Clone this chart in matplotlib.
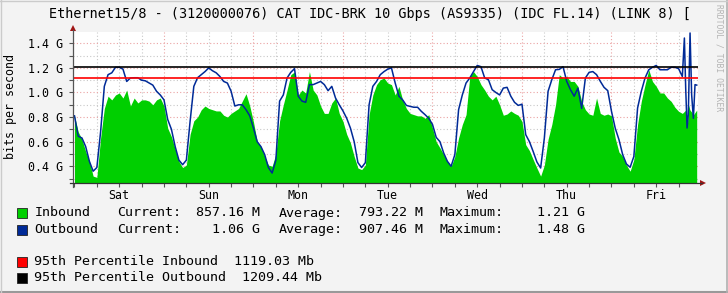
import matplotlib
matplotlib.use("Agg")
import matplotlib.pyplot as plt
from matplotlib.patches import Rectangle
from matplotlib.lines import Line2D
import numpy as np

W, H = 728, 293
FONT = "DejaVu Sans Mono"

title = "Ethernet15/8 - (3120000076) CAT IDC-BRK 10 Gbps (AS9335) (IDC FL.14) (LINK 8) ["
ylabel = "bits per second"
days = ["Sat", "Sun", "Mon", "Tue", "Wed", "Thu", "Fri"]
ytick_vals = [0.4, 0.6, 0.8, 1.0, 1.2, 1.4]
ytick_labels = ["0.4 G", "0.6 G", "0.8 G", "1.0 G", "1.2 G", "1.4 G"]

# hours since Saturday 00:00, values in Gbit/s
out_hourly = [
    0.81, 0.644, 0.63, 0.56, 0.44, 0.36, 0.39, 0.68, 1.05, 1.145,
    1.16, 1.205, 1.205, 1.19, 1.09, 1.118, 1.12, 1.12, 1.10, 1.095,
    1.077, 1.06, 1.01, 0.98, 0.94, 0.78, 0.70, 0.56, 0.45, 0.413,
    0.45, 0.765, 1.05, 1.12, 1.145, 1.17, 1.2, 1.177, 1.16, 1.13,
    1.09, 1.077, 1.01, 0.89, 0.90, 0.90, 0.86, 0.81, 0.71, 0.60,
    0.56, 0.495, 0.39, 0.345, 0.45, 0.93, 0.98, 1.118, 1.164, 1.194,
    0.97, 0.93, 0.92, 1.064, 1.064, 1.077, 1.09, 1.064, 1.015, 1.05,
    0.955, 0.90, 0.85, 0.79, 0.71, 0.60, 0.43, 0.39, 0.43, 0.90,
    1.05, 1.09, 1.145, 1.17, 1.19, 1.2, 1.077, 0.97, 0.94, 0.895,
    0.887, 0.88, 0.88, 0.847, 0.82, 0.79, 0.74, 0.635, 0.60, 0.508,
    0.44, 0.40, 0.495, 0.86, 0.98, 1.077, 1.118, 1.17, 1.22, 1.21,
    1.118, 1.104, 1.023, 1.0, 0.98, 1.036, 1.042, 0.97, 0.92, 0.895,
    0.905, 0.657, 0.60, 0.52, 0.435, 0.386, 0.63, 1.01, 1.104, 1.185,
    1.188, 1.21, 1.09, 1.023, 0.97, 1.036, 0.87, 1.118, 1.164, 1.17,
    1.145, 1.091, 1.042, 1.015, 0.847, 0.71, 0.617, 0.495, 0.419, 0.392,
    0.48, 0.874, 1.01, 1.118, 1.185, 1.205, 1.22, 1.185, 1.185, 1.185,
    1.205, 1.205, 1.194, 1.13,
]
out_tail_t = [163.55, 163.9, 164.27, 164.6, 165.07, 165.5, 165.96, 166.4, 166.86]
out_tail_v = [1.443, 1.036, 0.711, 0.82, 1.484, 0.98, 0.79, 1.064, 1.06]

in_hourly = [
    0.81, 0.68, 0.62, 0.52, 0.44, 0.32, 0.31, 0.63, 0.87, 0.97,
    0.94, 0.98, 0.996, 0.955, 1.02, 0.89, 0.955, 0.915, 0.94, 0.94,
    0.93, 0.90, 0.94, 0.955, 0.89, 0.71, 0.64, 0.54, 0.44, 0.39,
    0.41, 0.66, 0.77, 0.80, 0.86, 0.89, 0.87, 0.86, 0.85, 0.85,
    0.815, 0.80, 0.83, 0.85, 0.87, 0.93, 0.99, 0.89, 0.76, 0.60,
    0.56, 0.48, 0.41, 0.40, 0.50, 0.77, 0.90, 1.02, 1.145, 1.167,
    0.98, 1.02, 0.996, 1.17, 1.02, 0.98, 0.89, 0.83, 0.83, 0.915,
    0.955, 0.83, 0.765, 0.66, 0.59, 0.48, 0.386, 0.373, 0.41, 0.82,
    0.98, 1.064, 1.104, 1.118, 1.077, 1.064, 0.98, 1.05, 0.94, 0.87,
    0.83, 0.82, 0.81, 0.81, 0.79, 0.82, 0.71, 0.60, 0.55, 0.495,
    0.44, 0.40, 0.48, 0.63, 0.74, 0.82, 1.13, 1.17, 1.13, 1.064,
    1.02, 0.97, 0.94, 0.97, 0.90, 0.815, 0.825, 0.85, 0.83, 0.815,
    0.765, 0.576, 0.527, 0.455, 0.386, 0.32, 0.41, 0.62, 0.74, 0.90,
    1.145, 1.118, 1.13, 1.09, 1.09, 1.05, 0.928, 0.86, 0.825, 0.815,
    0.955, 0.83, 0.815, 0.825, 0.81, 0.63, 0.516, 0.48, 0.41, 0.36,
    0.455, 0.74, 0.93, 1.064, 1.185, 1.09, 1.05, 0.996, 0.996, 0.955,
    0.928, 0.88, 0.847, 0.83,
]
in_tail_t = [164.0, 164.3, 164.7, 165.0, 166.0, 166.86]
in_tail_v = [0.86, 0.71, 0.90, 0.86, 0.82, 0.857]

p95_in = 1.11903
p95_out = 1.20944

legend_rows = [
    ("Inbound", "857.16 M", "793.22 M", "1.21 G", "#00CF00"),
    ("Outbound", "1.06 G", "907.46 M", "1.48 G", "#002A97"),
]
pct_rows = [
    ("95th Percentile Inbound  1119.03 Mb", "#FF0000"),
    ("95th Percentile Outbound  1209.44 Mb", "#000000"),
]

out_t = list(range(len(out_hourly))) + out_tail_t
out_v = out_hourly + out_tail_v
in_t = list(range(len(in_hourly))) + in_tail_t
in_v = in_hourly + in_tail_v

fig = plt.figure(figsize=(W / 100, H / 100), dpi=100, facecolor="#F3F3F3")

def fx(x):
    return x / W

def fy(y):
    return 1 - y / H

L, R, T, B = 73, 698, 32, 183
ax = fig.add_axes([fx(L), fy(B), (R - L) / W, (B - T) / H])
ax.set_facecolor("white")
ax.set_xlim(-0.4, 167.2)
ax.set_ylim(0.264, 1.492)

# grid
for h in np.arange(6, 168, 6):
    if h % 24 == 0:
        ax.axvline(h, color="#EBA3A3", lw=0.8, ls=(0, (1, 2)), zorder=1)
    else:
        ax.axvline(h, color="#C8C8C8", lw=0.8, ls=(0, (1, 2)), zorder=1)
for v in np.arange(0.3, 1.45, 0.1):
    major = abs(round(v * 10) % 2) == 0
    ax.axhline(v, color="#EBA3A3" if major else "#C8C8C8", lw=0.8,
               ls=(0, (1, 2)), zorder=1)

ax.fill_between(in_t, 0, in_v, color="#00CF00", lw=0, zorder=2)
ax.plot(out_t, out_v, color="#002A97", lw=1.1, zorder=3)
ax.axhline(p95_in, color="#FF0000", lw=1.2, zorder=4)
ax.axhline(p95_out, color="#000000", lw=1.2, zorder=4)

for s in ax.spines.values():
    s.set_visible(False)

ax.set_yticks(ytick_vals, ytick_labels, fontsize=8.4, family=FONT)
ax.set_yticks(np.arange(0.3, 1.45, 0.1), minor=True)
ax.tick_params(axis="y", which="both", length=3, width=0.8, color="#555555", pad=4.5)
xt = list(np.arange(0, 168, 6))
xl = [days[int(h // 24)] if h % 24 == 12 else "" for h in xt]
ax.set_xticks(xt, xl, fontsize=8.4, family=FONT)
ax.tick_params(axis="x", length=3, width=0.8, color="#555555", pad=1.0)

# axes lines and arrows (figure pixel coords)
fig.add_artist(Line2D([fx(L), fx(L)], [fy(187), fy(30)], color="#555555", lw=0.9))
fig.add_artist(Line2D([fx(70), fx(702)], [fy(B), fy(B)], color="#333333", lw=0.9))
fig.add_artist(plt.Polygon([[fx(L - 3), fy(31)], [fx(L + 3), fy(31)], [fx(L), fy(25)]],
                           closed=True, color="#A01515", lw=0))
fig.add_artist(plt.Polygon([[fx(700), fy(B - 3)], [fx(700), fy(B + 3)], [fx(706), fy(B)]],
                           closed=True, color="#A01515", lw=0))

fig.text(fx(48.7), fy(14), title, family=FONT, fontsize=9.75, va="center", ha="left")
fig.text(fx(11), fy(106.5), ylabel, family=FONT, fontsize=8.4, rotation=90,
         va="center", ha="center")
fig.text(fx(718.5), fy(4), "RRDTOOL / TOBI OETIKER", family=FONT, fontsize=5.8,
         rotation=270, va="top", ha="center", color="#B4B4B4")

LEG = 9.6
row_y = [213, 229.5]
for (name, cur, avg, mx, col), y in zip(legend_rows, row_y):
    fig.add_artist(Rectangle((fx(17), fy(y + 5)), 10 / W, 10 / H, facecolor=col,
                             edgecolor="#222222", lw=0.6))
    fig.text(fx(34.4), fy(y), name, family=FONT, fontsize=LEG, va="center")
    fig.text(fx(116.7), fy(y), "Current:", family=FONT, fontsize=LEG, va="center")
    fig.text(fx(260.5), fy(y), cur, family=FONT, fontsize=LEG, va="center", ha="right")
    fig.text(fx(278.6), fy(y), "Average:", family=FONT, fontsize=LEG, va="center")
    fig.text(fx(422.5), fy(y), avg, family=FONT, fontsize=LEG, va="center", ha="right")
    fig.text(fx(440), fy(y), "Maximum:", family=FONT, fontsize=LEG, va="center")
    fig.text(fx(585), fy(y), mx, family=FONT, fontsize=LEG, va="center", ha="right")

for (txt, col), y in zip(pct_rows, [261.5, 277.5]):
    fig.add_artist(Rectangle((fx(17), fy(y + 5)), 10 / W, 10 / H, facecolor=col,
                             edgecolor="#222222", lw=0.6))
    fig.text(fx(34.4), fy(y), txt, family=FONT, fontsize=LEG, va="center")

# frame shading
fig.add_artist(Line2D([0, 1], [fy(292), fy(292)], color="#999999", lw=1.5))
fig.add_artist(Line2D([fx(727), fx(727)], [0, 1], color="#B0B0B0", lw=1.2))
fig.add_artist(Line2D([0, 1], [fy(0.5), fy(0.5)], color="#CBCBCB", lw=1.0))
fig.add_artist(Line2D([fx(0.5), fx(0.5)], [0, 1], color="#CBCBCB", lw=1.0))

fig.savefig("out.png", dpi=100, facecolor=fig.get_facecolor())
